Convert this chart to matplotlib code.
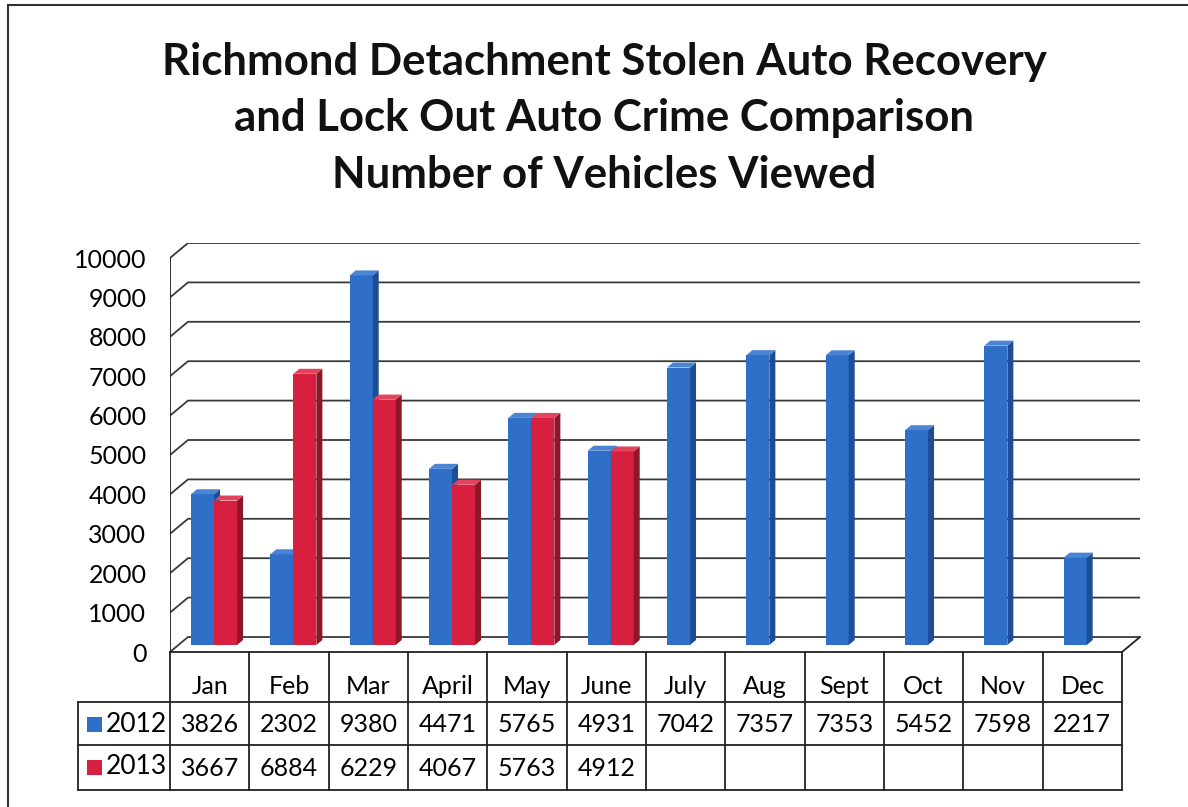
import numpy as np
import matplotlib.pyplot as plt
from matplotlib.patches import Polygon, Rectangle

months = ['Jan', 'Feb', 'Mar', 'April', 'May', 'June', 'July', 'Aug',
          'Sept', 'Oct', 'Nov', 'Dec']
vals_2012 = [3826, 2302, 9380, 4471, 5765, 4931, 7042, 7357, 7353, 5452, 7598, 2217]
vals_2013 = [3667, 6884, 6229, 4067, 5763, 4912]
yticks = list(range(0, 10001, 1000))
title_lines = ['Richmond Detachment Stolen Auto Recovery',
               'and Lock Out Auto Crime Comparison',
               'Number of Vehicles Viewed']

plt.rcParams['font.family'] = ['Lato', 'DejaVu Sans']

W, H = 1188, 807
fig = plt.figure(figsize=(W / 100, H / 100), dpi=100)

# pixel layout of the plot area
left_px, right_px = 170, 1140
zero_px, top_px = 652, 243
colw = (1122 - 170) / 12.0
ppu = (zero_px - 258) / 10000.0       # pixels per unit value
ddx = 18 / colw                        # depth of back wall (x units)
ddy = 15 / ppu                         # depth of back wall (value units)

ax = fig.add_axes([left_px / W, (H - zero_px) / H,
                   (right_px - left_px) / W, (zero_px - top_px) / H])
ax.set_xlim(0, (right_px - left_px) / colw)
ax.set_ylim(0, (zero_px - top_px) / ppu)
for s in ax.spines.values():
    s.set_visible(False)
ax.set_xticks([])
ax.set_yticks(yticks)
ax.tick_params(axis='y', length=0, pad=17, labelsize=18)

n = len(months)
# walls and gridlines
for v in yticks:
    ax.plot([0, ddx, n + ddx], [v, v + ddy, v + ddy], color='#3a3a3a', lw=1.3, zorder=1)
ax.plot([0, 0], [0, 10000], color='#222222', lw=1.3, zorder=1)
ax.plot([n, n + ddx], [0, ddy], color='#222222', lw=1.3, zorder=1, clip_on=False)

# 3D-looking bars
bw = 0.29
sdx = 6 / colw
sdy = 5 / ppu
base = 7 / ppu


def bar3d(xs, vals, front, side, top, z):
    xs = np.asarray(xs, dtype=float)
    vals = np.asarray(vals, dtype=float)
    ax.bar(xs, vals, bottom=base, width=bw, align='edge', color=front,
           edgecolor='none', zorder=z)
    for x, v in zip(xs, vals):
        y0, y1 = base, base + v
        ax.add_patch(Polygon([(x + bw, y0), (x + bw + sdx, y0 + sdy),
                              (x + bw + sdx, y1 + sdy), (x + bw, y1)],
                             closed=True, fc=side, ec='none', zorder=z))
        ax.add_patch(Polygon([(x, y1), (x + sdx, y1 + sdy),
                              (x + bw + sdx, y1 + sdy), (x + bw, y1)],
                             closed=True, fc=top, ec='none', zorder=z))


idx = np.arange(n)
bar3d(idx + 0.265, vals_2012, '#2f6fc7', '#1c4d96', '#4b84d3', 3)
bar3d(np.arange(len(vals_2013)) + 0.555, vals_2013, '#d71f3f', '#8e1629', '#e2445d', 4)

# data table, in figure pixels
tab = fig.add_axes([0, 0, 1, 1], zorder=5)
tab.set_xlim(0, W)
tab.set_ylim(H, 0)
tab.axis('off')
tab.patch.set_alpha(0)

lc = '#222222'
r0, r1, r2, r3 = 652, 702, 745, 790
leg_x = 78
tab.plot([170, 1122], [r0, r0], color=lc, lw=1.3)
for yy in (r1, r2, r3):
    tab.plot([leg_x, 1122], [yy, yy], color=lc, lw=1.3)
tab.plot([leg_x, leg_x], [r1, r3], color=lc, lw=1.3)
for k in range(n + 1):
    xx = 170 + k * colw
    tab.plot([xx, xx], [r0, r3], color=lc, lw=1.3)

fs = 18
for k, m in enumerate(months):
    cx = 170 + (k + 0.5) * colw
    tab.text(cx, 686, m, ha='center', va='center', fontsize=fs)
    tab.text(cx, 725, str(vals_2012[k]), ha='center', va='center', fontsize=fs)
    if k < len(vals_2013):
        tab.text(cx, 768, str(vals_2013[k]), ha='center', va='center', fontsize=fs)

for cy, lab, col in [(724, '2012', '#2f6fc7'), (767, '2013', '#d71f3f')]:
    tab.add_patch(Rectangle((87, cy - 7), 15, 15, fc=col, ec='none'))
    tab.text(106, cy, lab, ha='left', va='center', fontsize=19)

# outer frame (top and left only visible)
tab.plot([8, W], [5, 5], color='#333333', lw=1.5)
tab.plot([8, 8], [5, H], color='#333333', lw=1.5)

for i, line in enumerate(title_lines):
    tab.text(604, 62 + i * 56.5, line, ha='center', va='center',
             fontsize=31.5, fontweight='bold', color='#111111')

fig.savefig('out.png', dpi=100)
